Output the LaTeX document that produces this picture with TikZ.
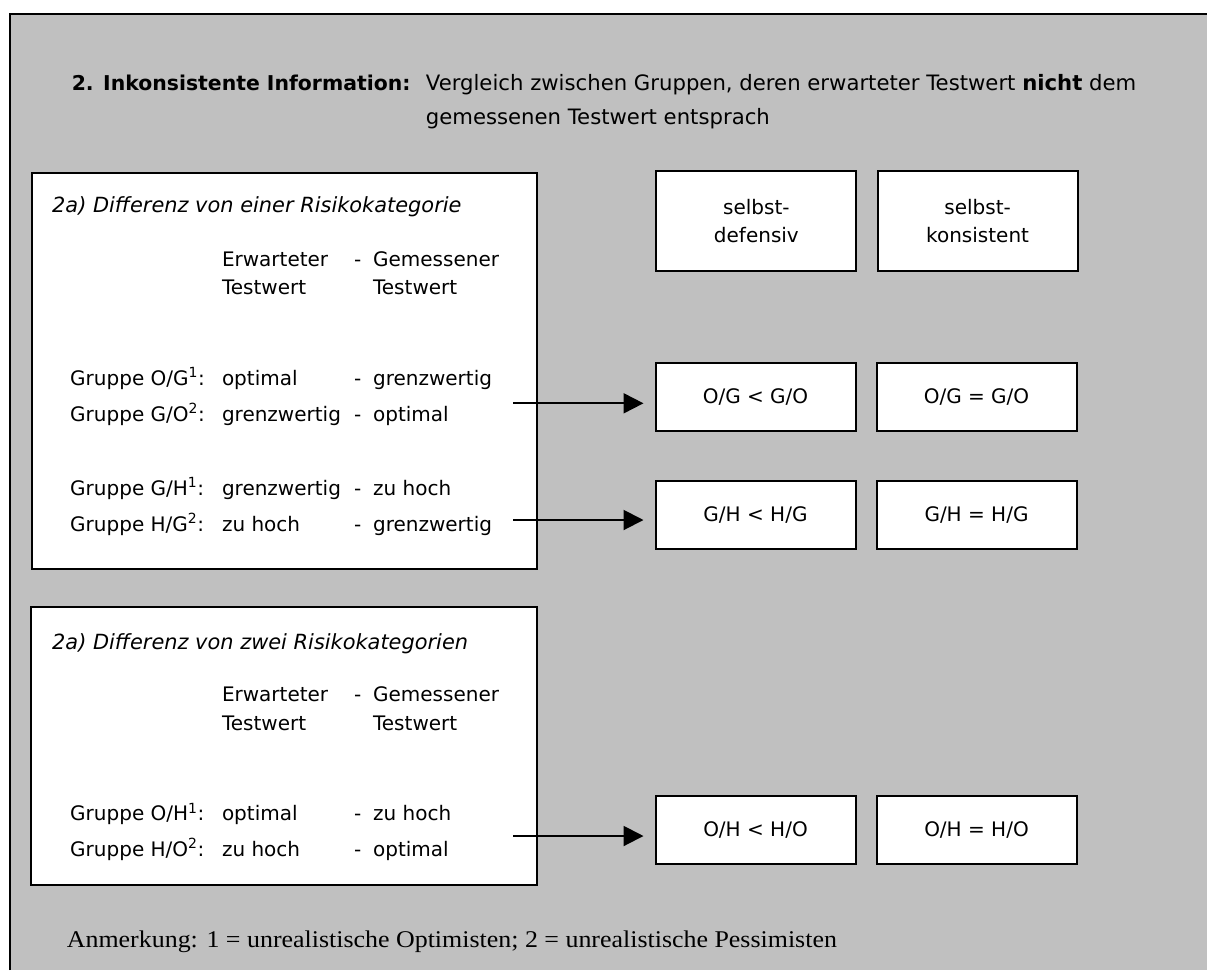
\documentclass[tikz,border=0pt]{standalone}
\usepackage{fontspec}
\setmainfont{DejaVu Sans}
\newfontfamily\serifnote[FakeStretch=1.08]{Liberation Serif}
\usetikzlibrary{arrows.meta}
\definecolor{bggray}{HTML}{C0C0C0}
\tikzset{
  frame/.style={draw=black, line width=2pt, fill=white, inner sep=0pt, anchor=north west},
  txt/.style={anchor=base west, inner sep=0pt, font=\fontsize{20}{28}\selectfont},
  ttl/.style={anchor=base west, inner sep=0pt, font=\fontsize{20.9}{28}\itshape},
  boxtxt/.style={draw=black, line width=2pt, fill=white, inner sep=0pt, align=center,
     font=\fontsize{20}{28}\selectfont, minimum width=200pt},
  conn/.style={line width=2pt, -{Triangle[length=20pt,width=20pt]}, shorten >=11pt},
}
\begin{document}
\begin{tikzpicture}[x=1pt,y=-1pt]
\useasboundingbox (0,0) rectangle (1207,970);
\fill[white] (0,0) rectangle (1207,970);
\fill[bggray] (10,14) rectangle (1207,970);
\draw[line width=2.5pt] (10,970) -- (10,14) -- (1207,14);

% heading
\node[txt, font=\fontsize{20.4}{28}\bfseries] (h1) at (71.6,90.5) {2. Inkonsistente Information:};
\node[txt, font=\fontsize{21.2}{28}\selectfont] (h2) at (425.7,90.5) {Vergleich zwischen Gruppen, deren erwarteter Testwert \textbf{nicht} dem};
\node[txt, font=\fontsize{21.2}{28}\selectfont] (h3) at (425.7,124) {gemessenen Testwert entsprach};

% upper left frame
\node[frame, minimum width=505pt, minimum height=396pt] (f1) at (30.7,171.7) {};
\node[ttl] (t1) at (52,212.7) {2a) Differenz von einer Risikokategorie};
\node[txt] (e1) at (221.8,266) {Erwarteter};
\node[txt] (d1) at (354,266) {-};
\node[txt] (g1) at (372.9,266) {Gemessener};
\node[txt] (e1b) at (221.8,294.5) {Testwert};
\node[txt] (g1b) at (372.9,294.5) {Testwert};

\node[txt] (r1a) at (70,385) {Gruppe O/G\textsuperscript{1}:};
\node[txt] (r1b) at (221.8,385) {optimal};
\node[txt] (r1d) at (354,385) {-};
\node[txt] (r1c) at (372.9,385) {grenzwertig};
\node[txt] (r2a) at (70,421) {Gruppe G/O\textsuperscript{2}:};
\node[txt] (r2b) at (221.8,421) {grenzwertig};
\node[txt] (r2d) at (354,421) {-};
\node[txt] (r2c) at (372.9,421) {optimal};

\node[txt] (r3a) at (70,495) {Gruppe G/H\textsuperscript{1}:};
\node[txt] (r3b) at (221.8,495) {grenzwertig};
\node[txt] (r3d) at (354,495) {-};
\node[txt] (r3c) at (372.9,495) {zu hoch};
\node[txt] (r4a) at (70,531) {Gruppe H/G\textsuperscript{2}:};
\node[txt] (r4b) at (221.8,531) {zu hoch};
\node[txt] (r4d) at (354,531) {-};
\node[txt] (r4c) at (372.9,531) {grenzwertig};

% right column header boxes
\node[boxtxt, minimum height=100pt] (sd) at (756.4,220.7) {selbst-\\defensiv};
\node[boxtxt, minimum height=100pt] (sk) at (977.6,220.7) {selbst-\\konsistent};

% result boxes
\node[boxtxt, minimum height=68pt] (b1) at (755.5,397) {O/G {<} G/O};
\node[boxtxt, minimum height=68pt] (c1) at (976.5,397) {O/G = G/O};
\node[boxtxt, minimum height=68pt] (b2) at (755.5,514.5) {G/H {<} H/G};
\node[boxtxt, minimum height=68pt] (c2) at (976.5,514.5) {G/H = H/G};

% lower frame
\node[frame, minimum width=506pt, minimum height=278pt] (f2) at (29.8,606) {};
\node[ttl] (t2) at (52,649.3) {2a) Differenz von zwei Risikokategorien};
\node[txt] (e2) at (221.8,701.7) {Erwarteter};
\node[txt] (d2) at (354,701.7) {-};
\node[txt] (g2) at (372.9,701.7) {Gemessener};
\node[txt] (e2b) at (221.8,730) {Testwert};
\node[txt] (g2b) at (372.9,730) {Testwert};
\node[txt] (r5a) at (70,820.7) {Gruppe O/H\textsuperscript{1}:};
\node[txt] (r5b) at (221.8,820.7) {optimal};
\node[txt] (r5d) at (354,820.7) {-};
\node[txt] (r5c) at (372.9,820.7) {zu hoch};
\node[txt] (r6a) at (70,856) {Gruppe H/O\textsuperscript{2}:};
\node[txt] (r6b) at (221.8,856) {zu hoch};
\node[txt] (r6d) at (354,856) {-};
\node[txt] (r6c) at (372.9,856) {optimal};

\node[boxtxt, minimum height=68pt] (b3) at (755.5,830) {O/H {<} H/O};
\node[boxtxt, minimum height=68pt] (c3) at (976.5,830) {O/H = H/O};

% connectors
\coordinate (s1) at (513,403.3);
\coordinate (s2) at (513,520);
\coordinate (s3) at (513,836);
\draw[conn] (s1) -- (s1 -| b1.west);
\draw[conn] (s2) -- (s2 -| b2.west);
\draw[conn] (s3) -- (s3 -| b3.west);

% note
\node[anchor=base west, inner sep=0pt, font=\serifnote\fontsize{24}{28}\selectfont] (note) at (66.7,947) {Anmerkung: 1 = unrealistische Optimisten; 2 = unrealistische Pessimisten};
\end{tikzpicture}
\end{document}
